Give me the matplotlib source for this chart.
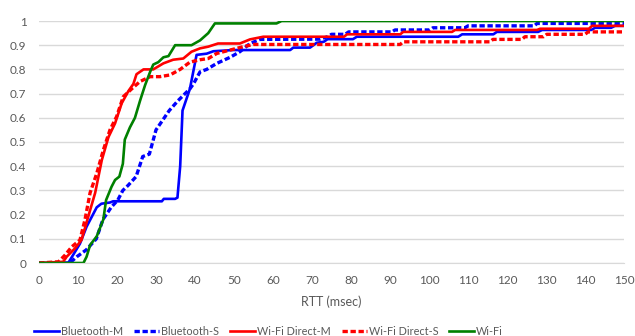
import matplotlib
matplotlib.use("Agg")
import matplotlib.pyplot as plt

# RTT CDF values
bt_m_x = [0, 7.5, 10.5, 12.2, 14.8, 16, 18.2, 19, 31.5, 32, 34.9, 35.5, 36.2, 36.8, 38.7, 40.4, 43, 44.7,
          49.8, 53.2, 64.4, 65.2, 69.5, 71.2, 73, 74, 80.5, 81.5, 107.5, 108.5, 116.5, 117.4, 128, 129,
          141.6, 142.6, 146.7, 147.7, 150]
bt_m_y = [0, 0, 0.08, 0.15, 0.23, 0.245, 0.25, 0.255, 0.255, 0.265, 0.265, 0.27, 0.4, 0.63, 0.72, 0.86,
          0.865, 0.875, 0.88, 0.88, 0.88, 0.89, 0.89, 0.91, 0.914, 0.925, 0.925, 0.935, 0.935, 0.945,
          0.945, 0.955, 0.955, 0.963, 0.963, 0.972, 0.972, 0.98, 0.98]

bt_s_x = [0, 7.9, 9.7, 12.1, 14.7, 16.4, 18.5, 20.2, 21.5, 22.8, 24.9, 26.6, 28.3, 30, 31.7, 33.4, 35.6,
          38.7, 39.6, 41.3, 43, 45.6, 49, 51.5, 54.1, 56.7, 72, 74, 75, 78.5, 79.4, 90.5, 91.3, 100.2, 101,
          109.2, 110, 127, 127.7, 150]
bt_s_y = [0, 0, 0.026, 0.054, 0.10, 0.18, 0.23, 0.26, 0.30, 0.32, 0.357, 0.44, 0.45, 0.55, 0.59, 0.63,
          0.67, 0.72, 0.74, 0.79, 0.80, 0.825, 0.85, 0.873, 0.907, 0.924, 0.925, 0.935, 0.945, 0.945,
          0.955, 0.955, 0.963, 0.963, 0.972, 0.972, 0.98, 0.98, 0.99, 0.99]

wd_m_x = [0, 6.2, 7.1, 9.2, 10.9, 12.6, 14.4, 16.1, 17.8, 19.5, 21.2, 22.9, 24.2, 25, 26.8, 29.3, 31.9,
          34.4, 37, 39.1, 41.3, 43.4, 45.9, 51.5, 54.1, 57.5, 78.2, 79, 92.6, 93.4, 105.9, 106.7, 127.7,
          128.5, 141, 141.8, 150]
wd_m_y = [0, 0.005, 0.026, 0.06, 0.095, 0.19, 0.29, 0.425, 0.52, 0.577, 0.66, 0.71, 0.74, 0.78, 0.80,
          0.80, 0.825, 0.84, 0.845, 0.873, 0.887, 0.894, 0.907, 0.907, 0.924, 0.935, 0.935, 0.945, 0.945,
          0.955, 0.955, 0.963, 0.963, 0.968, 0.968, 0.98, 0.98]

wd_s_x = [0, 5, 6.7, 8.4, 10.5, 11.8, 13.1, 14.8, 16.5, 18.2, 19.9, 21.6, 23.8, 25.9, 28.5, 31, 33.6,
          36.2, 38.7, 41.3, 43.4, 45.6, 49, 52.4, 55, 92.6, 93.4, 115.6, 116.4, 123.8, 124.6, 129.4,
          130.2, 140, 140.8, 150]
wd_s_y = [0, 0.005, 0.033, 0.067, 0.095, 0.18, 0.29, 0.37, 0.467, 0.55, 0.605, 0.687, 0.72, 0.75, 0.77,
          0.77, 0.777, 0.80, 0.83, 0.84, 0.845, 0.866, 0.88, 0.894, 0.903, 0.903, 0.914, 0.914, 0.924,
          0.924, 0.935, 0.935, 0.945, 0.945, 0.955, 0.955]

wifi_x = [0, 11.4, 12.2, 13.1, 14.8, 16.5, 17.2, 18.6, 19.5, 20.6, 21.5, 22, 23.3, 24.6, 25.9, 27.2,
          28.5, 29.3, 30.6, 31.9, 33.2, 34.9, 39.1, 41.3, 43.4, 45.1, 60.9, 62.2, 150]
wifi_y = [0, 0, 0.026, 0.074, 0.11, 0.18, 0.26, 0.315, 0.343, 0.357, 0.41, 0.51, 0.56, 0.60, 0.67, 0.735,
          0.79, 0.82, 0.83, 0.85, 0.855, 0.90, 0.90, 0.92, 0.95, 0.99, 0.99, 1.0, 1.0]

x_ticks = list(range(0, 151, 10))
y_ticks = [0, 0.1, 0.2, 0.3, 0.4, 0.5, 0.6, 0.7, 0.8, 0.9, 1]
y_labels = ["0", "0.1", "0.2", "0.3", "0.4", "0.5", "0.6", "0.7", "0.8", "0.9", "1"]

plt.rcParams['font.family'] = ['Lato', 'DejaVu Sans']
gray = '#595959'

fig = plt.figure(figsize=[6.35, 3.36], dpi=100)
ax = fig.add_axes([39/635, 1-263/336, 585/635, 242/336])

dash = (0, (1.6, 0.8))
lw = 1.9
ax.plot(bt_m_x, bt_m_y, color='#0000ff', lw=lw, label='Bluetooth-M')
ax.plot(bt_s_x, bt_s_y, color='#0000ff', lw=lw+0.5, linestyle=dash, label='Bluetooth-S')
ax.plot(wd_m_x, wd_m_y, color='#ff0000', lw=lw, label='Wi-Fi Direct-M')
ax.plot(wd_s_x, wd_s_y, color='#ff0000', lw=lw+0.5, linestyle=dash, label='Wi-Fi Direct-S')
ax.plot(wifi_x, wifi_y, color='#008000', lw=lw, label='Wi-Fi')

ax.set_xlim(0, 150)
ax.set_ylim(0, 1)
ax.set_xticks(x_ticks)
ax.set_yticks(y_ticks)
ax.set_yticklabels(y_labels)
ax.tick_params(length=0, colors=gray, labelsize=8.5)
ax.tick_params(axis='x', pad=8.5)
ax.tick_params(axis='y', pad=9)
ax.grid(axis='y', color='#d9d9d9', lw=1)
ax.set_axisbelow(True)
for side in ['top', 'right', 'left']:
    ax.spines[side].set_visible(False)
ax.spines['bottom'].set_color('#d9d9d9')
ax.set_xlabel("RTT (msec)", color=gray, fontsize=9, labelpad=7)

fig.legend(loc='lower center', bbox_to_anchor=(0.423, -0.032), ncol=5, frameon=False,
           fontsize=7.8, handlelength=2.3, columnspacing=1.0, handletextpad=0.2,
           labelcolor=gray)

plt.savefig("out.png", dpi=100)
plt.close()
